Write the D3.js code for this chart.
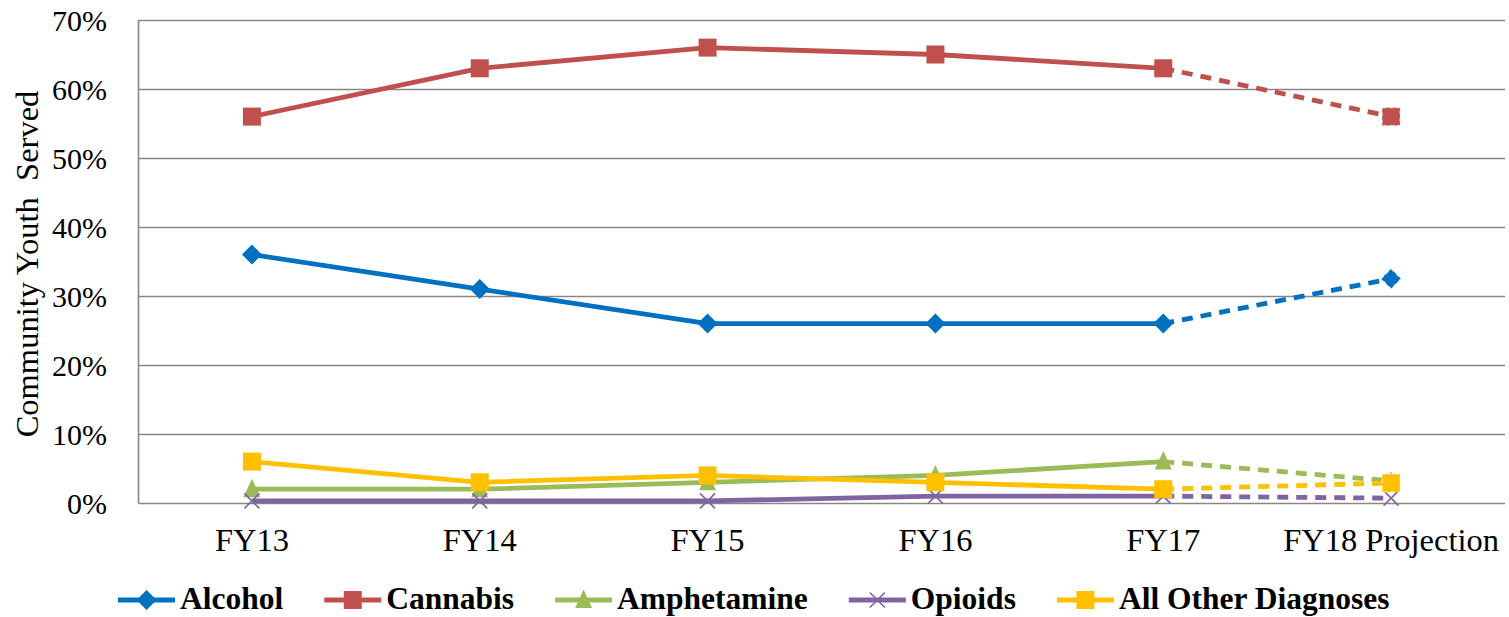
<!DOCTYPE html>
<html>
<head>
<meta charset="utf-8">
<script src="https://cdn.jsdelivr.net/npm/d3@7"></script>
<style>
  body { margin: 0; background: #fff; }
  text { font-family: "Liberation Serif", "Times New Roman", serif; fill: #000; }
</style>
</head>
<body>
<script>
var width = 1509,
    height = 617;

// data
var categories = ["FY13", "FY14", "FY15", "FY16", "FY17", "FY18 Projection"];
var seriesNames = ["Alcohol", "Cannabis", "Amphetamine", "Opioids", "All Other Diagnoses"];
var alcohol = [36, 31, 26, 26, 26, 32.5];
var cannabis = [56, 63, 66, 65, 63, 56];
var amphetamine = [2, 2, 3, 4, 6, 3.2];
var opioids = [0.3, 0.3, 0.3, 1, 1, 0.7];
var otherDx = [6, 3, 4, 3, 2, 2.9];
var yTicks = [0, 10, 20, 30, 40, 50, 60, 70];

var colors = ["#0070C0", "#C0504D", "#9BBB59", "#8064A2", "#FFC000"];
var shapes = ["diamond", "square", "triangle", "x", "square"];
var values = [alcohol, cannabis, amphetamine, opioids, otherDx];

var series = seriesNames.map(function(n, i) {
  return { name: n, color: colors[i], shape: shapes[i], values: values[i] };
});

var margin = { left: 138, right: 4, top: 20, bottom: 114 };

var x = d3.scaleBand()
    .domain(categories)
    .range([margin.left, width - margin.right]);

var y = d3.scaleLinear()
    .domain([0, 70])
    .range([height - margin.bottom, margin.top]);

var svg = d3.select("body").append("svg")
    .attr("width", width)
    .attr("height", height);

// gridlines
svg.append("g")
    .selectAll("line")
    .data(yTicks)
    .enter().append("line")
    .attr("x1", margin.left)
    .attr("x2", width - margin.right)
    .attr("y1", function(d) { return Math.round(y(d)) + 0.5; })
    .attr("y2", function(d) { return Math.round(y(d)) + 0.5; })
    .attr("stroke", "#878787")
    .attr("stroke-width", 1.6);

// left axis line
svg.append("line")
    .attr("x1", margin.left + 0.5).attr("x2", margin.left + 0.5)
    .attr("y1", y(70)).attr("y2", y(0))
    .attr("stroke", "#878787")
    .attr("stroke-width", 1.6);

// y tick labels
svg.append("g")
    .selectAll("text")
    .data(yTicks)
    .enter().append("text")
    .attr("x", 107)
    .attr("y", function(d) { return y(d); })
    .attr("dy", "0.36em")
    .attr("text-anchor", "end")
    .style("font-size", "30px")
    .text(function(d) { return d + "%"; });

// x tick labels
svg.append("g")
    .selectAll("text")
    .data(categories)
    .enter().append("text")
    .attr("x", function(d) { return x(d) + x.bandwidth() / 2; })
    .attr("y", 551)
    .attr("text-anchor", "middle")
    .style("font-size", "32.5px")
    .text(function(d) { return d; });

// y title
svg.append("text")
    .attr("transform", "translate(38," + 264 + ")rotate(-90)")
    .attr("text-anchor", "middle")
    .style("font-size", "32.5px")
    .style("white-space", "pre")
    .attr("xml:space", "preserve")
    .text("Community Youth  Served");

function cx(i) { return x(categories[i]) + x.bandwidth() / 2; }

function drawMarker(g, shape, color, px, py, s, dashed) {
  var m;
  if (shape === "diamond") {
    m = g.append("path")
      .attr("d", "M" + px + "," + (py - s) + "L" + (px + s) + "," + py + "L" + px + "," + (py + s) + "L" + (px - s) + "," + py + "Z")
      .attr("fill", color);
  } else if (shape === "square") {
    m = g.append("rect")
      .attr("x", px - s * 0.9).attr("y", py - s * 0.9)
      .attr("width", s * 1.8).attr("height", s * 1.8)
      .attr("fill", color);
  } else if (shape === "triangle") {
    m = g.append("path")
      .attr("d", "M" + px + "," + (py - s * 1.05) + "L" + (px + s * 0.85) + "," + (py + s * 0.8) + "L" + (px - s * 0.85) + "," + (py + s * 0.8) + "Z")
      .attr("fill", color);
  } else {
    var k = s * 0.75;
    g.append("path")
      .attr("d", "M" + (px - k) + "," + (py - k) + "L" + (px + k) + "," + (py + k) + "M" + (px + k) + "," + (py - k) + "L" + (px - k) + "," + (py + k))
      .attr("stroke", color)
      .attr("stroke-width", 1.6)
      .attr("fill", "none");
    return;
  }
  // projection markers get the dashed outline like the source
  if (dashed) {
    m.attr("stroke", "#fff").attr("stroke-width", 1.2).attr("stroke-dasharray", "4,3").attr("stroke-opacity", 0.7);
  }
}

var line = d3.line()
    .x(function(d) { return cx(d.i); })
    .y(function(d) { return y(d.v); });

var plot = svg.append("g");

series.forEach(function(s) {
  var pts = s.values.map(function(v, i) { return { v: v, i: i }; });
  var g = plot.append("g");
  g.append("path")
    .datum(pts.slice(0, 5))
    .attr("d", line)
    .attr("fill", "none")
    .attr("stroke", s.color)
    .attr("stroke-width", 4.8)
    .attr("stroke-linejoin", "round");
  g.append("path")
    .datum(pts.slice(4))
    .attr("d", line)
    .attr("fill", "none")
    .attr("stroke", s.color)
    .attr("stroke-width", 4.8)
    .attr("stroke-dasharray", "11,8");
  pts.forEach(function(p) {
    drawMarker(g, s.shape, s.color, cx(p.i), y(p.v), 10, p.i === 5);
  });
});

// legend
var legend = svg.append("g");
var lx = 118, ly = 600;
series.forEach(function(s) {
  var item = legend.append("g");
  item.append("line")
    .attr("x1", lx).attr("x2", lx + 57)
    .attr("y1", ly).attr("y2", ly)
    .attr("stroke", s.color)
    .attr("stroke-width", 4.8);
  drawMarker(item, s.shape, s.color, lx + 28.5, ly, 10, false);
  var t = item.append("text")
    .attr("x", lx + 62)
    .attr("y", 609)
    .style("font-size", "31.5px")
    .style("font-weight", "bold")
    .text(s.name);
  lx = lx + 62 + t.node().getComputedTextLength() + 41;
});
</script>
</body>
</html>
